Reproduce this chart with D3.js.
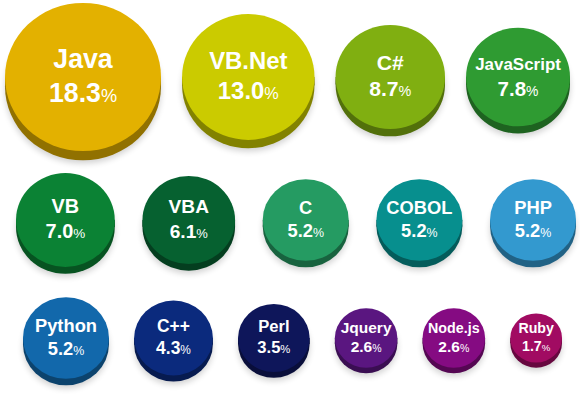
<!DOCTYPE html>
<html>
<head>
<meta charset="utf-8">
<script src="https://cdn.jsdelivr.net/npm/d3@7"></script>
<style>
	html, body { margin: 0; padding: 0; background: #fff; }
	svg { display: block; font-family: "Liberation Sans", Arial, sans-serif; }
</style>
</head>
<body>
<svg id="chart" width="580" height="395"></svg>
<script>
// language share data
var languages = ["Java", "VB.Net", "C#", "JavaScript", "VB", "VBA", "C", "COBOL", "PHP",
	"Python", "C++", "Perl", "Jquery", "Node.js", "Ruby"];
var shares = [18.3, 13.0, 8.7, 7.8, 7.0, 6.1, 5.2, 5.2, 5.2, 5.2, 4.3, 3.5, 2.6, 2.6, 1.7];
var colors = ["#E3B100", "#CBCB00", "#80AF11", "#2F9B32", "#0B8234", "#066130", "#259B62", "#078F8E",
	"#3399CF", "#1268AB", "#0B2A7D", "#0E165A", "#5A1680", "#850B82", "#A10B62"];
var rowSizes = [4, 5, 6];

// layout
var rowY = [77, 220, 338],
	rowLeft = [5, 16, 23],
	rowRight = [570, 576, 562];

var svg = d3.select("#chart");

var r = d3.scaleSqrt().domain([0, d3.max(shares)]).range([3, 78]);

var defs = svg.append("defs");
defs.append("filter").attr("id", "blur")
	.attr("x", "-20%").attr("y", "-20%").attr("width", "140%").attr("height", "140%")
	.append("feGaussianBlur").attr("stdDeviation", 3);

var nodes = languages.map(function(name, i) {
	return { name: name, value: shares[i], color: colors[i], r: r(shares[i]) };
});

// spread each row between its left and right edge
var k = 0;
rowSizes.forEach(function(n, row) {
	var items = nodes.slice(k, k + n);
	k += n;
	var total = d3.sum(items, function(d) { return 2 * d.r; });
	var gap = (rowRight[row] - rowLeft[row] - total) / (n - 1);
	var x = rowLeft[row];
	items.forEach(function(d) {
		d.cx = x + d.r;
		d.cy = rowY[row];
		x += 2 * d.r + gap;
	});
});

var g = svg.selectAll("g.bubble")
	.data(nodes)
	.enter().append("g")
	.attr("class", "bubble")
	.attr("transform", function(d) { return "translate(" + d.cx + "," + d.cy + ")"; });

g.each(function(d) {
	var el = d3.select(this),
		ry = d.r * 0.95,
		depth = 3 + d.r * 0.08,
		rim = d3.color(d.color).darker(1.25).formatHex();

	// soft shadow under the disc
	el.append("ellipse")
		.attr("cx", 0).attr("cy", depth + 3)
		.attr("rx", d.r).attr("ry", ry)
		.attr("fill", "#000").attr("opacity", 0.18)
		.attr("filter", "url(#blur)");

	// side of the disc
	el.append("ellipse")
		.attr("cx", 0).attr("cy", depth)
		.attr("rx", d.r).attr("ry", ry)
		.attr("fill", rim);
	el.append("rect")
		.attr("x", -d.r).attr("y", 0)
		.attr("width", 2 * d.r).attr("height", depth)
		.attr("fill", rim);

	// top face
	el.append("ellipse")
		.attr("rx", d.r).attr("ry", ry)
		.attr("fill", d.color);

	var f = 8 + d.r * 0.24;

	var name = el.append("text")
		.attr("text-anchor", "middle")
		.attr("y", -0.35 * f)
		.attr("fill", "#fff")
		.attr("font-weight", "bold")
		.attr("font-size", f)
		.text(d.name);
	var w = name.node().getComputedTextLength();
	if (w > d.r * 1.65) {
		name.attr("font-size", f * d.r * 1.65 / w);
	}

	var val = el.append("text")
		.attr("text-anchor", "middle")
		.attr("y", 0.92 * f)
		.attr("fill", "#fff")
		.attr("font-weight", "bold")
		.attr("font-size", f);
	val.append("tspan").text(d.value.toFixed(1));
	val.append("tspan")
		.attr("font-size", f * 0.68)
		.attr("font-weight", "normal")
		.text("%");
});
</script>
</body>
</html>
